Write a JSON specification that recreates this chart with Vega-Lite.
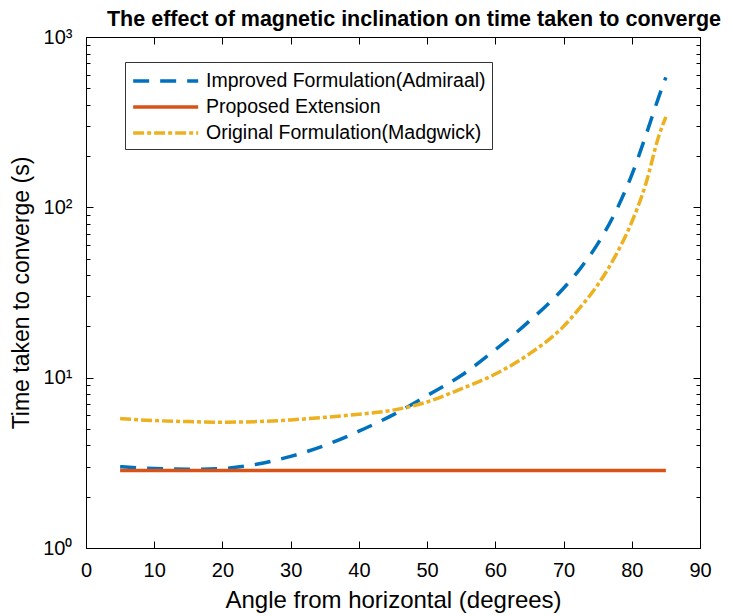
{
  "$schema": "https://vega.github.io/schema/vega-lite/v6.json",
  "width": 614,
  "height": 511,
  "autosize": {"type": "none"},
  "padding": {"left": 86, "top": 37, "right": 33, "bottom": 68},
  "title": {"text": "The effect of magnetic inclination on time taken to converge", "fontSize": 21.5, "fontWeight": "bold", "font": "Liberation Sans", "anchor": "middle", "dx": 21, "offset": -3, "color": "black"},
  "config": {
    "view": {"stroke": "black", "strokeWidth": 1},
    "font": "Liberation Sans",
    "axis": {"grid": false, "domainColor": "black", "tickColor": "black", "labelColor": "black", "titleColor": "black", "labelFont": "Liberation Sans", "titleFont": "Liberation Sans", "labelFontSize": 20, "titleFontSize": 23, "titleFontWeight": "normal", "labelOverlap": false, "labelBound": false, "labelFlush": false}
  },
  "datasets": {
    "d": [
      {"angle": 5, "time": 3.0, "series": "Improved Formulation(Admiraal)"},
      {"angle": 10, "time": 2.93, "series": "Improved Formulation(Admiraal)"},
      {"angle": 15, "time": 2.9, "series": "Improved Formulation(Admiraal)"},
      {"angle": 20, "time": 2.93, "series": "Improved Formulation(Admiraal)"},
      {"angle": 25, "time": 3.1, "series": "Improved Formulation(Admiraal)"},
      {"angle": 30, "time": 3.45, "series": "Improved Formulation(Admiraal)"},
      {"angle": 35, "time": 4.0, "series": "Improved Formulation(Admiraal)"},
      {"angle": 40, "time": 4.85, "series": "Improved Formulation(Admiraal)"},
      {"angle": 45, "time": 6.05, "series": "Improved Formulation(Admiraal)"},
      {"angle": 50, "time": 7.85, "series": "Improved Formulation(Admiraal)"},
      {"angle": 55, "time": 10.3, "series": "Improved Formulation(Admiraal)"},
      {"angle": 60, "time": 14.6, "series": "Improved Formulation(Admiraal)"},
      {"angle": 65, "time": 21.5, "series": "Improved Formulation(Admiraal)"},
      {"angle": 70, "time": 33.5, "series": "Improved Formulation(Admiraal)"},
      {"angle": 72.5, "time": 44, "series": "Improved Formulation(Admiraal)"},
      {"angle": 75, "time": 61, "series": "Improved Formulation(Admiraal)"},
      {"angle": 77.5, "time": 92, "series": "Improved Formulation(Admiraal)"},
      {"angle": 80, "time": 155, "series": "Improved Formulation(Admiraal)"},
      {"angle": 82, "time": 260, "series": "Improved Formulation(Admiraal)"},
      {"angle": 84, "time": 450, "series": "Improved Formulation(Admiraal)"},
      {"angle": 85, "time": 580, "series": "Improved Formulation(Admiraal)"},
      {"angle": 5, "time": 2.85, "series": "Proposed Extension"},
      {"angle": 85, "time": 2.85, "series": "Proposed Extension"},
      {"angle": 5, "time": 5.75, "series": "Original Formulation(Madgwick)"},
      {"angle": 10, "time": 5.6, "series": "Original Formulation(Madgwick)"},
      {"angle": 15, "time": 5.52, "series": "Original Formulation(Madgwick)"},
      {"angle": 20, "time": 5.48, "series": "Original Formulation(Madgwick)"},
      {"angle": 25, "time": 5.52, "series": "Original Formulation(Madgwick)"},
      {"angle": 30, "time": 5.65, "series": "Original Formulation(Madgwick)"},
      {"angle": 35, "time": 5.85, "series": "Original Formulation(Madgwick)"},
      {"angle": 40, "time": 6.1, "series": "Original Formulation(Madgwick)"},
      {"angle": 45, "time": 6.45, "series": "Original Formulation(Madgwick)"},
      {"angle": 50, "time": 7.2, "series": "Original Formulation(Madgwick)"},
      {"angle": 55, "time": 8.6, "series": "Original Formulation(Madgwick)"},
      {"angle": 60, "time": 10.5, "series": "Original Formulation(Madgwick)"},
      {"angle": 65, "time": 13.8, "series": "Original Formulation(Madgwick)"},
      {"angle": 70, "time": 20, "series": "Original Formulation(Madgwick)"},
      {"angle": 72.5, "time": 26, "series": "Original Formulation(Madgwick)"},
      {"angle": 75, "time": 35, "series": "Original Formulation(Madgwick)"},
      {"angle": 77.5, "time": 51, "series": "Original Formulation(Madgwick)"},
      {"angle": 80, "time": 82, "series": "Original Formulation(Madgwick)"},
      {"angle": 82, "time": 135, "series": "Original Formulation(Madgwick)"},
      {"angle": 84, "time": 265, "series": "Original Formulation(Madgwick)"},
      {"angle": 85, "time": 340, "series": "Original Formulation(Madgwick)"}
    ]
  },
  "data": {"name": "d"},
  "layer": [
    {
      "mark": {"type": "line", "strokeWidth": 3.5, "clip": true, "interpolate": "monotone"},
      "encoding": {
        "x": {"field": "angle", "type": "quantitative", "scale": {"domain": [0, 90], "nice": false},
          "axis": {"orient": "bottom", "values": [0, 10, 20, 30, 40, 50, 60, 70, 80, 90], "title": "Angle from horizontal (degrees)", "tickSize": -7, "labelPadding": 19, "titlePadding": 8, "titleFontSize": 24}},
        "y": {"field": "time", "type": "quantitative", "scale": {"type": "log", "domain": [1, 1000], "nice": false},
          "axis": {"orient": "left", "title": "Time taken to converge (s)",
            "values": [1, 2, 3, 4, 5, 6, 7, 8, 9, 10, 20, 30, 40, 50, 60, 70, 80, 90, 100, 200, 300, 400, 500, 600, 700, 800, 900, 1000],
            "labelExpr": "datum.value == 1 ? '10⁰' : datum.value == 10 ? '10¹' : datum.value == 100 ? '10²' : datum.value == 1000 ? '10³' : ''",
            "tickSize": {"condition": {"test": "datum.value == 1 || datum.value == 10 || datum.value == 100 || datum.value == 1000", "value": -7}, "value": -4},
            "labelPadding": 21, "titlePadding": 9}},
        "color": {"field": "series", "type": "nominal", "sort": ["Improved Formulation(Admiraal)", "Proposed Extension", "Original Formulation(Madgwick)"],
          "scale": {"domain": ["Improved Formulation(Admiraal)", "Proposed Extension", "Original Formulation(Madgwick)"], "range": ["#0072BD", "#D95319", "#EDB120"]},
          "legend": {"title": null, "orient": "none", "legendX": 39, "legendY": 25, "strokeColor": "#333333", "fillColor": "white", "padding": 6, "symbolType": "M-1,0H5", "symbolSize": 470, "symbolStrokeWidth": 3.5, "symbolFillColor": "transparent", "labelFontSize": 19.5, "labelFont": "Liberation Sans", "labelColor": "black", "labelLimit": 500, "rowPadding": 3, "labelOffset": 49}},
        "strokeDash": {"field": "series", "type": "nominal",
          "scale": {"domain": ["Improved Formulation(Admiraal)", "Proposed Extension", "Original Formulation(Madgwick)"], "range": [[16, 11], [1, 0], [11, 3, 4, 3]]},
          "legend": {"title": null, "orient": "none", "legendX": 39, "legendY": 25}}
      }
    },
    {
      "mark": {"type": "line", "opacity": 0},
      "encoding": {
        "x": {"field": "angle", "type": "quantitative", "scale": {"domain": [0, 90], "nice": false},
          "axis": {"orient": "top", "values": [0, 10, 20, 30, 40, 50, 60, 70, 80, 90], "labels": false, "title": null, "tickSize": -7}},
        "y": {"field": "time", "type": "quantitative", "scale": {"type": "log", "domain": [1, 1000], "nice": false},
          "axis": {"orient": "right", "title": null, "labels": false,
            "values": [1, 2, 3, 4, 5, 6, 7, 8, 9, 10, 20, 30, 40, 50, 60, 70, 80, 90, 100, 200, 300, 400, 500, 600, 700, 800, 900, 1000],
            "tickSize": {"condition": {"test": "datum.value == 1 || datum.value == 10 || datum.value == 100 || datum.value == 1000", "value": -7}, "value": -4}}},
        "detail": {"field": "series"}
      }
    }
  ],
  "resolve": {"axis": {"x": "independent", "y": "independent"}}
}
